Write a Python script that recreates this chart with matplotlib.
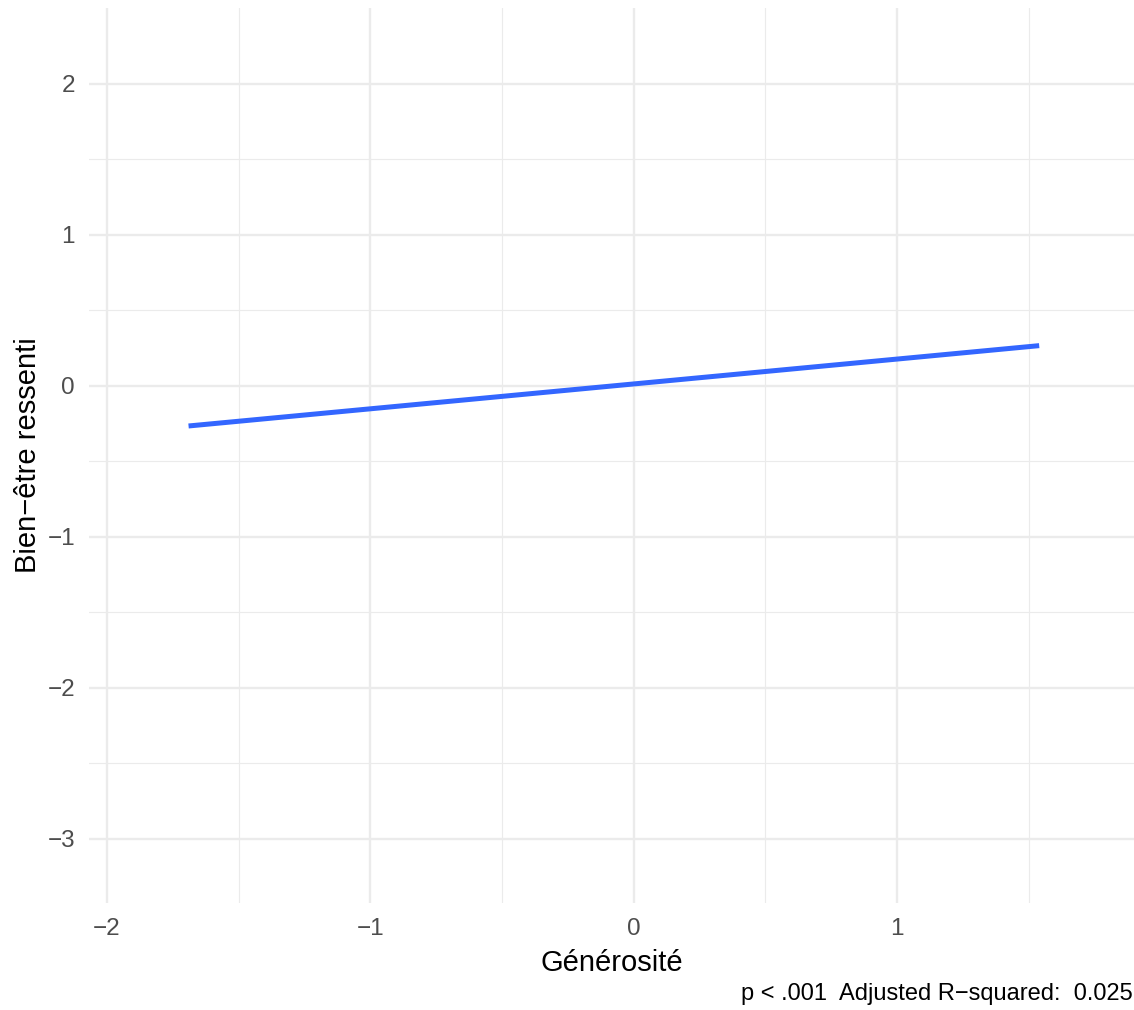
import matplotlib
matplotlib.use("Agg")
import matplotlib.pyplot as plt

plt.rcParams['font.family'] = ['Liberation Sans', 'DejaVu Sans']
plt.rcParams['axes.unicode_minus'] = True

# fitted regression line (start and end points)
gen_x = [-1.69, 1.54]
fit_y = [-0.265, 0.267]

x_ticks = [-2, -1, 0, 1]
y_ticks = [-3, -2, -1, 0, 1, 2]
x_minor = [-1.5, -0.5, 0.5, 1.5]
y_minor = [-2.5, -1.5, -0.5, 0.5, 1.5]

fig = plt.figure(figsize=(11.34, 10.10), dpi=100)
ax = fig.add_axes([89 / 1134, 107 / 1010, 1045 / 1134, 895 / 1010])

ax.plot(gen_x, fit_y, color='#3366FF', lw=3.6, solid_capstyle='butt', zorder=3)

ax.set_xlim(-2.068, 1.90)
ax.set_ylim(-3.424, 2.503)
ax.set_xticks(x_ticks)
ax.set_yticks(y_ticks)
ax.set_xticks(x_minor, minor=True)
ax.set_yticks(y_minor, minor=True)
ax.grid(True, which='major', color='#EBEBEB', lw=1.7)
ax.grid(True, which='minor', color='#EBEBEB', lw=0.85)
ax.set_axisbelow(True)
for s in ax.spines.values():
    s.set_visible(False)
ax.tick_params(which='both', length=0)
ax.tick_params(labelsize=17.5, labelcolor='#4D4D4D')
ax.tick_params(axis='x', pad=11)
ax.tick_params(axis='y', pad=10)

ax.set_xlabel('Générosité', fontsize=21, labelpad=6)
ax.set_ylabel('Bien−être ressenti', fontsize=21, labelpad=4)

fig.text(1133 / 1134, 5 / 1010, 'p < .001  Adjusted R−squared:  0.025',
         ha='right', va='bottom', fontsize=17)

fig.savefig('out.png', dpi=100)
